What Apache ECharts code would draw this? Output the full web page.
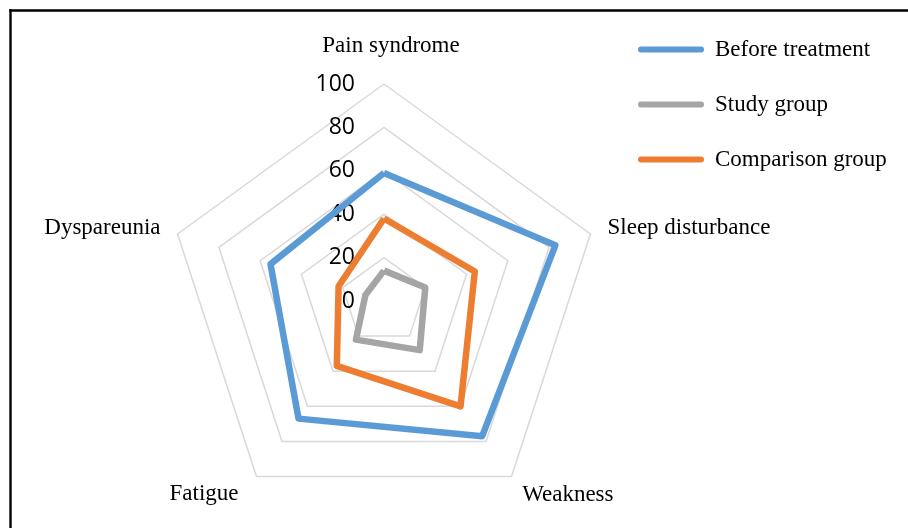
<!DOCTYPE html>
<html>
<head>
<meta charset="utf-8">
<script src="https://cdn.jsdelivr.net/npm/echarts@6/dist/echarts.min.js"></script>
<style>
  html, body { margin: 0; padding: 0; background: #fff; }
  #main { width: 908px; height: 528px; }
</style>
</head>
<body>
<div id="main"></div>
<script>
// categories, clockwise from the top
var categories = ['Pain syndrome', 'Sleep disturbance', 'Weakness', 'Fatigue', 'Dyspareunia'];
var seriesNames = ['Before treatment', 'Study group', 'Comparison group'];
var beforeTreatment = [59, 83, 77, 67, 55];
var studyGroup = [14, 20, 28, 22, 9];
var comparisonGroup = [38, 44, 60, 37, 22];
var axisMax = 100;
var splitCount = 5;

// echarts lays out indicators counter-clockwise, so reorder
var order = [0, 4, 3, 2, 1];
function reorder(arr) {
    return order.map(function (i) { return arr[i]; });
}

var myChart = echarts.init(document.getElementById('main'));

var indicators = reorder(categories).map(function (name, i) {
    var item = { name: name, min: 0, max: axisMax };
    if (i === 0) {
        item.nameGap = 27;
        item.axisLabel = {
            show: true,
            margin: 29,
            color: '#000',
            fontFamily: 'Open Sans',
            fontSize: 23
        };
    }
    if (name === 'Fatigue') {
        item.nameGap = 22;
    }
    return item;
});

// small nudges so names sit where the original put them
var nameStyle = {
    'Pain syndrome': 'top',
    'Weakness': 'bot',
    'Fatigue': 'left'
};

var option = {
    animation: false,
    backgroundColor: '#fff',
    color: ['#5B9BD5', '#A5A5A5', '#ED7D31'],
    legend: {
        orient: 'vertical',
        left: 633,
        top: 33,
        itemWidth: 66,
        itemHeight: 6,
        itemGap: 32,
        icon: 'path://M3,0 L63,0 A3,3 0 0 1 63,6 L3,6 A3,3 0 0 1 3,0 Z',
        textStyle: {
            fontFamily: 'Liberation Serif',
            fontSize: 23,
            lineHeight: 22,
            color: '#000',
            padding: [0, 0, 0, 6]
        },
        data: seriesNames
    },
    radar: {
        center: [384, 301],
        radius: 217,
        shape: 'polygon',
        splitNumber: splitCount,
        nameGap: 18,
        axisName: {
            color: '#000',
            fontFamily: 'Liberation Serif',
            fontSize: 23,
            formatter: function (name) {
                var s = nameStyle[name];
                return s ? '{' + s + '|' + name + '}' : name;
            },
            rich: {
                top: { fontFamily: 'Liberation Serif', fontSize: 23, color: '#000', padding: [0, 0, 0, 14] },
                bot: { fontFamily: 'Liberation Serif', fontSize: 23, color: '#000', padding: [8, 0, 0, 0] },
                left: { fontFamily: 'Liberation Serif', fontSize: 23, color: '#000', padding: [0, 5, 0, 0] }
            }
        },
        axisLine: { show: false },
        axisTick: { show: false },
        axisLabel: { show: false },
        splitArea: { show: false },
        splitLine: {
            lineStyle: { color: '#d9d9d9', width: 1.5 }
        },
        indicator: indicators
    },
    series: [{
        type: 'radar',
        symbol: 'none',
        lineStyle: { width: 6.5 },
        data: [
            { name: seriesNames[0], value: reorder(beforeTreatment) },
            { name: seriesNames[1], value: reorder(studyGroup) },
            { name: seriesNames[2], value: reorder(comparisonGroup) }
        ]
    }],
    graphic: [
        { type: 'line', shape: { x1: 9.3, y1: 10.5, x2: 908, y2: 10.5 }, style: { stroke: '#000', lineWidth: 2.4 } },
        { type: 'line', shape: { x1: 10.5, y1: 9.3, x2: 10.5, y2: 528 }, style: { stroke: '#000', lineWidth: 2.4 } }
    ]
};

myChart.setOption(option);
</script>
</body>
</html>
